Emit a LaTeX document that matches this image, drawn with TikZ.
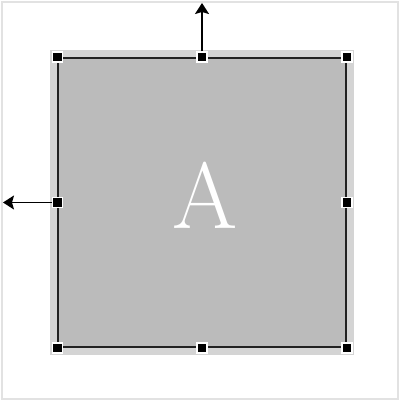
\documentclass[tikz,border=0pt]{standalone}
\usepackage{tikz}
\usetikzlibrary{positioning, arrows.meta}
\definecolor{cFRAME}{HTML}{E2E2E2}
\definecolor{cHALO}{HTML}{D4D4D4}
\definecolor{cBOX}{HTML}{BBBBBB}
\definecolor{cEDGE}{HTML}{222222}
\tikzset{
  shapebox/.style={
    draw=cEDGE, line width=1.8pt,
    fill=cBOX,
    text=white,
    minimum width=288pt,
    minimum height=289pt,
    inner sep=0pt,
    text depth=15pt,
    font=\fontsize{94}{94}\selectfont
  },
  handle/.style={
    draw=white, line width=1.2pt,
    fill=black,
    minimum size=10pt,
    inner sep=0pt
  },
  pull/.style={
    -{Stealth[length=11pt,width=14pt,inset=2pt]},
    line width=1.5pt,
    draw=black
  }
}

\begin{document}
\begin{tikzpicture}[x=1pt, y=-1pt]
  \useasboundingbox (0,0) rectangle (400,403);
  \draw[cFRAME, line width=1.5pt] (2,2) rectangle (398,399);
  \fill[cHALO] (50,50) rectangle (354,355);

  \node[shapebox] (box) at (202,202.5) {\hspace*{6pt}A};

  \node[handle] (hnw) at (box.north west) {};
  \node[handle] (hn) at (box.north) {};
  \node[handle] (hne) at (box.north east) {};
  \node[handle] (hw) at (box.west) {};
  \node[handle] (he) at (box.east) {};
  \node[handle] (hsw) at (box.south west) {};
  \node[handle] (hs) at (box.south) {};
  \node[handle] (hse) at (box.south east) {};

  \coordinate (up) at (202,3);
  \coordinate (left) at (3,202.5);
  \draw[pull] (hn) -- (up);
  \draw[pull] (hw) -- (left);
\end{tikzpicture}
\end{document}
